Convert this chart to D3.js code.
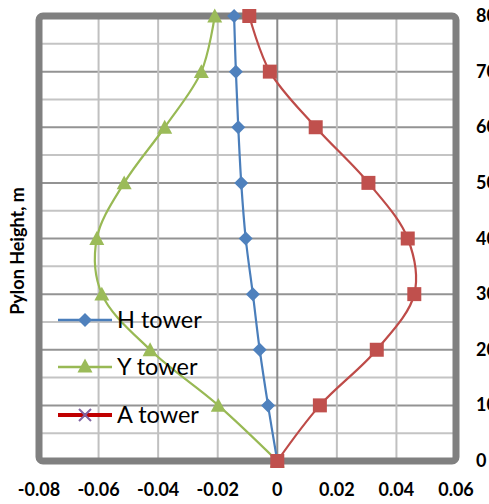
<!DOCTYPE html>
<html>
<head>
<meta charset="utf-8">
<script src="https://cdn.jsdelivr.net/npm/d3@7"></script>
<style>
  html, body { margin: 0; padding: 0; background: #fff; }
  svg { display: block; font-family: Lato, "Open Sans", sans-serif; }
</style>
</head>
<body>
<svg id="chart" width="489" height="504"></svg>
<script>
// Pylon heights (m) and lateral displacement of each tower type
const heights = [0, 10, 20, 30, 40, 50, 60, 70, 80];
const hTower = [0, -0.0031, -0.0059, -0.0082, -0.0106, -0.0121, -0.0131, -0.0139, -0.0145];
const yTower = [0, -0.0198, -0.0427, -0.0589, -0.0606, -0.0514, -0.0378, -0.0255, -0.0210];
const aTower = [0, 0.0143, 0.0334, 0.0460, 0.0438, 0.0306, 0.0129, -0.0025, -0.0094];
const xTicks = [-0.08, -0.06, -0.04, -0.02, 0, 0.02, 0.04, 0.06];
const xTickLabels = ["-0.08", "-0.06", "-0.04", "-0.02", "0", "0.02", "0.04", "0.06"];
const yTicks = [0, 10, 20, 30, 40, 50, 60, 70, 80];
const yMinorTicks = [5, 15, 25, 35, 45, 55, 65, 75];
const seriesNames = ["H tower", "Y tower", "A tower"];

const svg = d3.select("#chart");
const x = d3.scaleLinear().domain([-0.08, 0.06]).range([39, 456]);
const y = d3.scaleLinear().domain([0, 80]).range([461, 16]);

// gridlines
const grid = svg.append("g");
grid.selectAll("line.minor").data(yMinorTicks).join("line")
  .attr("x1", x(-0.08)).attr("x2", x(0.06))
  .attr("y1", d => y(d)).attr("y2", d => y(d))
  .attr("stroke", "#c4c4c4").attr("stroke-width", 2);
grid.selectAll("line.major").data(yTicks).join("line")
  .attr("x1", x(-0.08)).attr("x2", x(0.06))
  .attr("y1", d => y(d)).attr("y2", d => y(d))
  .attr("stroke", "#939393").attr("stroke-width", 2);
grid.selectAll("line.vert").data(xTicks).join("line")
  .attr("x1", d => x(d)).attr("x2", d => x(d))
  .attr("y1", y(80)).attr("y2", y(0))
  .attr("stroke", d => d === 0 ? "#8a8a8a" : "#c0c0c0").attr("stroke-width", 2);

// plot frame
svg.append("rect")
  .attr("x", x(-0.08)).attr("y", y(80))
  .attr("width", x(0.06) - x(-0.08)).attr("height", y(0) - y(80))
  .attr("rx", 4).attr("fill", "none")
  .attr("stroke", "#808080").attr("stroke-width", 7);

// x tick labels
svg.append("g").selectAll("text").data(xTicks).join("text")
  .attr("x", d => x(d)).attr("y", 496)
  .attr("text-anchor", "middle")
  .attr("font-size", 18).attr("font-weight", "bold").attr("fill", "#000")
  .text((d, i) => xTickLabels[i]);

// y tick labels on the right
svg.append("g").selectAll("text").data(yTicks).join("text")
  .attr("x", 476).attr("y", d => y(d) + 6)
  .attr("text-anchor", "start")
  .attr("font-size", 18).attr("font-weight", "bold").attr("fill", "#000")
  .text(d => d);

// y axis title
svg.append("text")
  .attr("transform", "translate(24," + 251 + ") rotate(-90)")
  .attr("text-anchor", "middle")
  .attr("font-size", 18).attr("font-weight", "bold").attr("fill", "#000")
  .text("Pylon Height, m");

const line = d3.line().curve(d3.curveCatmullRom.alpha(0.5));

function pts(vals) { return vals.map((v, i) => [x(v), y(heights[i])]); }

const diamond = s => `M0,${-s}L${s},0L0,${s}L${-s},0Z`;
const triangle = s => `M0,${-s}L${s},${s * 0.85}L${-s},${s * 0.85}Z`;
const square = s => `M${-s},${-s}H${s}V${s}H${-s}Z`;

const series = [
  { vals: hTower, color: "#4a7ebb", fill: "#4f81bd", shape: diamond(7) },
  { vals: yTower, color: "#98b954", fill: "#9bbb59", shape: triangle(7.5) },
  { vals: aTower, color: "#be4b48", fill: "#c0504d", shape: square(7) }
];

series.forEach(s => {
  svg.append("path").attr("d", line(pts(s.vals)))
    .attr("fill", "none").attr("stroke", s.color).attr("stroke-width", 2.2);
});
series.forEach(s => {
  svg.append("g").selectAll("path").data(pts(s.vals)).join("path")
    .attr("transform", d => `translate(${d[0]},${d[1]})`)
    .attr("d", s.shape).attr("fill", s.fill);
});

// legend
const legendRows = [320, 367, 415];
const lg = svg.append("g");
// H tower
lg.append("line").attr("x1", 58).attr("x2", 112).attr("y1", legendRows[0]).attr("y2", legendRows[0])
  .attr("stroke", "#4a7ebb").attr("stroke-width", 2.5);
lg.append("path").attr("transform", `translate(85,${legendRows[0]})`).attr("d", diamond(7)).attr("fill", "#4f81bd");
// Y tower
lg.append("line").attr("x1", 58).attr("x2", 112).attr("y1", legendRows[1]).attr("y2", legendRows[1])
  .attr("stroke", "#98b954").attr("stroke-width", 2.5);
lg.append("path").attr("transform", `translate(85,${legendRows[1] - 1})`).attr("d", triangle(7.5)).attr("fill", "#9bbb59");
// A tower
lg.append("line").attr("x1", 58).attr("x2", 112).attr("y1", legendRows[2]).attr("y2", legendRows[2])
  .attr("stroke", "#c00000").attr("stroke-width", 4);
lg.append("path").attr("transform", `translate(85,${legendRows[2]})`)
  .attr("d", "M-6,-6L6,6M6,-6L-6,6").attr("stroke", "#8064a2").attr("stroke-width", 2).attr("fill", "none");
lg.selectAll("text").data(seriesNames).join("text")
  .attr("x", 117).attr("y", (d, i) => legendRows[i] + 8)
  .attr("font-size", 23.5).attr("fill", "#000")
  .text(d => d);
</script>
</body>
</html>
